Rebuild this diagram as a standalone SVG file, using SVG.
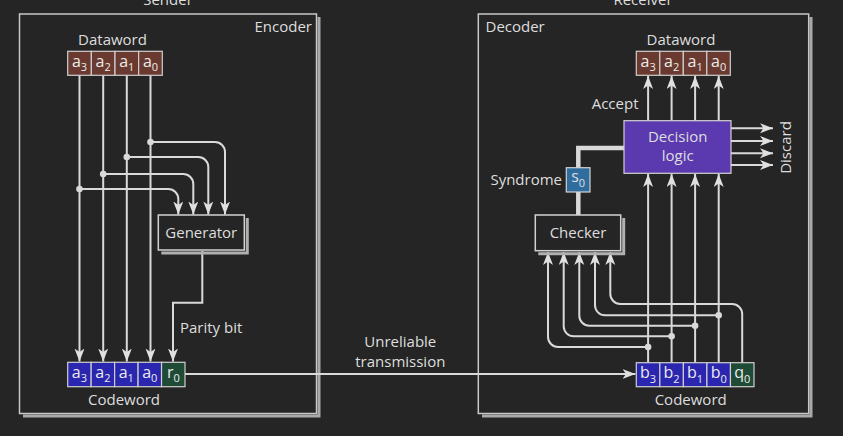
<svg xmlns="http://www.w3.org/2000/svg" width="843" height="436" viewBox="0 0 843 436">
<defs>
<style>
text{font-family:"Open Sans","Liberation Sans",sans-serif;fill:#dedede;font-size:15px}
.mid{text-anchor:middle}
.end{text-anchor:end}
.cell text{font-size:16px;text-anchor:middle;fill:#ececec}
.sub{font-size:11px}
.frame{fill:none;stroke:#c8c8c8;stroke-width:1.5}
.shadow{fill:none;stroke:#a9a9a9;stroke-width:3}
.box{fill:#252525;stroke:#d2d2d2;stroke-width:1.5}
.bshadow{fill:none;stroke:#b0b0b0;stroke-width:3}
.ln{fill:none;stroke:#d9d9d9;stroke-width:2}
.thick{fill:none;stroke:#d9d9d9;stroke-width:4.5}
.dot{fill:#d9d9d9}
.brown{fill:#6a3a30;stroke:#cfcfcf;stroke-width:1.2}
.blue{fill:#2a26b0;stroke:#cfcfcf;stroke-width:1.2}
.green{fill:#1e4a36;stroke:#cfcfcf;stroke-width:1.2}
</style>
<marker id="arr" markerUnits="userSpaceOnUse" markerWidth="14" markerHeight="11" refX="13" refY="5" orient="auto">
<path d="M0,0 L13,5 L0,10 L3.5,5 z" fill="#e0e0e0"/>
</marker>
</defs>
<rect width="843" height="436" fill="#252525"/>

<text class="mid" x="168" y="5">Sender</text>
<text class="mid" x="643" y="5">Receiver</text>

<g id="encoder">
<path class="shadow" d="M319,17 V416 H23"/>
<rect class="frame" x="19.5" y="14" width="297" height="399.5"/>
<text class="end" x="312" y="32">Encoder</text>
</g>

<g id="decoder">
<path class="shadow" d="M811,17 V416 H482"/>
<rect class="frame" x="478.3" y="14" width="330.4" height="399.5"/>
<text x="485.5" y="32">Decoder</text>
</g>

<g id="connectors">
<path class="ln" d="M79.5,75.3 V361.5" marker-end="url(#arr)"/>
<path class="ln" d="M103.2,75.3 V361.5" marker-end="url(#arr)"/>
<path class="ln" d="M126.8,75.3 V361.5" marker-end="url(#arr)"/>
<path class="ln" d="M150.5,75.3 V361.5" marker-end="url(#arr)"/>
<path class="ln" d="M150.5,142 H215 A10,10 0 0 1 225,152 V214.5" marker-end="url(#arr)"/>
<path class="ln" d="M126.8,157 H198.3 A10,10 0 0 1 208.3,167 V214.5" marker-end="url(#arr)"/>
<path class="ln" d="M103.2,174 H183.3 A10,10 0 0 1 193.3,184 V214.5" marker-end="url(#arr)"/>
<path class="ln" d="M79.5,189 H168.3 A10,10 0 0 1 178.3,199 V214.5" marker-end="url(#arr)"/>
<circle class="dot" cx="150.5" cy="142" r="3.3"/>
<circle class="dot" cx="126.8" cy="157" r="3.3"/>
<circle class="dot" cx="103.2" cy="174" r="3.3"/>
<circle class="dot" cx="79.5" cy="189" r="3.3"/>
<path class="ln" d="M202.3,251 V302.7 H173 V361.5" marker-end="url(#arr)"/>
<path class="ln" d="M185,374 H635.5" marker-end="url(#arr)"/>
<path class="ln" d="M648.1,362.7 V174" marker-end="url(#arr)"/>
<path class="ln" d="M671.6,362.7 V174" marker-end="url(#arr)"/>
<path class="ln" d="M695.1,362.7 V174" marker-end="url(#arr)"/>
<path class="ln" d="M718.7,362.7 V174" marker-end="url(#arr)"/>
<path class="ln" d="M648.1,120.7 V76" marker-end="url(#arr)"/>
<path class="ln" d="M671.6,120.7 V76" marker-end="url(#arr)"/>
<path class="ln" d="M695.1,120.7 V76" marker-end="url(#arr)"/>
<path class="ln" d="M718.7,120.7 V76" marker-end="url(#arr)"/>
<path class="ln" d="M731,128.3 H773" marker-end="url(#arr)"/>
<path class="ln" d="M731,141 H773" marker-end="url(#arr)"/>
<path class="ln" d="M731,153.3 H773" marker-end="url(#arr)"/>
<path class="ln" d="M731,165 H773" marker-end="url(#arr)"/>
<path class="ln" d="M648.1,347 H558 A10,10 0 0 1 548,337 V252" marker-end="url(#arr)"/>
<path class="ln" d="M671.6,336.3 H573.7 A10,10 0 0 1 563.7,326.3 V252" marker-end="url(#arr)"/>
<path class="ln" d="M695.1,325.7 H589.3 A10,10 0 0 1 579.3,315.7 V252" marker-end="url(#arr)"/>
<path class="ln" d="M718.7,315.3 H605 A10,10 0 0 1 595,305.3 V252" marker-end="url(#arr)"/>
<path class="ln" d="M742.2,362.7 V314 A10,10 0 0 0 732.2,304 H620.3 A10,10 0 0 1 610.3,294 V252" marker-end="url(#arr)"/>
<circle class="dot" cx="648.1" cy="347" r="3.3"/>
<circle class="dot" cx="671.6" cy="336.3" r="3.3"/>
<circle class="dot" cx="695.1" cy="325.7" r="3.3"/>
<circle class="dot" cx="718.7" cy="315.3" r="3.3"/>
<path class="thick" d="M624,148 H578.3 V168"/>
<path class="thick" d="M578.3,192 V215"/>
</g>

<text class="mid" x="112.5" y="45">Dataword</text>
<g id="enc-dataword" class="cell">
<rect class="brown" x="67.7" y="51.3" width="23.65" height="24"/>
<rect class="brown" x="91.35" y="51.3" width="23.65" height="24"/>
<rect class="brown" x="115" y="51.3" width="23.65" height="24"/>
<rect class="brown" x="138.65" y="51.3" width="23.65" height="24"/>
<text x="79.5" y="66.5">a<tspan class="sub" dy="4.5">3</tspan></text>
<text x="103.2" y="66.5">a<tspan class="sub" dy="4.5">2</tspan></text>
<text x="126.8" y="66.5">a<tspan class="sub" dy="4.5">1</tspan></text>
<text x="150.5" y="66.5">a<tspan class="sub" dy="4.5">0</tspan></text>
</g>

<g id="generator">
<path class="bshadow" d="M247.3,218 V253 H161.3"/>
<rect class="box" x="158.3" y="215" width="86" height="35"/>
<text class="mid" x="201.3" y="237.5">Generator</text>
</g>

<text x="180" y="333">Parity bit</text>

<g id="enc-codeword" class="cell">
<rect class="blue" x="67.7" y="362.3" width="23.46" height="24.4"/>
<rect class="blue" x="91.16" y="362.3" width="23.46" height="24.4"/>
<rect class="blue" x="114.62" y="362.3" width="23.46" height="24.4"/>
<rect class="blue" x="138.08" y="362.3" width="23.46" height="24.4"/>
<rect class="green" x="161.54" y="362.3" width="23.46" height="24.4"/>
<text x="79.4" y="377.5">a<tspan class="sub" dy="4.5">3</tspan></text>
<text x="102.9" y="377.5">a<tspan class="sub" dy="4.5">2</tspan></text>
<text x="126.3" y="377.5">a<tspan class="sub" dy="4.5">1</tspan></text>
<text x="149.8" y="377.5">a<tspan class="sub" dy="4.5">0</tspan></text>
<text x="173.3" y="377.5">r<tspan class="sub" dy="4.5">0</tspan></text>
</g>
<text class="mid" x="124" y="404.5">Codeword</text>

<g id="transmission-label">
<text class="mid" x="400.3" y="347">Unreliable</text>
<text class="mid" x="400.3" y="366.5">transmission</text>
</g>

<text class="mid" x="681" y="45">Dataword</text>
<g id="dec-dataword" class="cell">
<rect class="brown" x="636.3" y="51.3" width="23.5" height="24"/>
<rect class="brown" x="659.8" y="51.3" width="23.5" height="24"/>
<rect class="brown" x="683.3" y="51.3" width="23.5" height="24"/>
<rect class="brown" x="706.8" y="51.3" width="23.5" height="24"/>
<text x="648.1" y="66.5">a<tspan class="sub" dy="4.5">3</tspan></text>
<text x="671.6" y="66.5">a<tspan class="sub" dy="4.5">2</tspan></text>
<text x="695.1" y="66.5">a<tspan class="sub" dy="4.5">1</tspan></text>
<text x="718.6" y="66.5">a<tspan class="sub" dy="4.5">0</tspan></text>
</g>

<text class="end" x="638.5" y="108.5">Accept</text>

<g id="decision-logic">
<rect x="624" y="120.7" width="107" height="52.6" fill="#5a3aae" stroke="#d2d2d2" stroke-width="1.2"/>
<text class="mid" x="677.7" y="142">Decision</text>
<text class="mid" x="677.7" y="161">logic</text>
</g>

<text class="mid" transform="translate(791,147.5) rotate(-90)" x="0" y="0">Discard</text>

<g id="syndrome">
<rect x="566.3" y="167.7" width="23.7" height="24.3" fill="#2e6d9e" stroke="#d2d2d2" stroke-width="1.2"/>
<text class="mid" x="578.2" y="182" style="font-size:16px">s<tspan class="sub" dy="4.5">0</tspan></text>
<text class="end" x="562" y="185">Syndrome</text>
</g>

<g id="checker">
<path class="bshadow" d="M623.7,218 V253.7 H538.3"/>
<rect class="box" x="535.3" y="215" width="85.4" height="35.7"/>
<text class="mid" x="578" y="237.5">Checker</text>
</g>

<g id="dec-codeword" class="cell">
<rect class="blue" x="636.3" y="362.7" width="23.54" height="24"/>
<rect class="blue" x="659.84" y="362.7" width="23.54" height="24"/>
<rect class="blue" x="683.38" y="362.7" width="23.54" height="24"/>
<rect class="blue" x="706.92" y="362.7" width="23.54" height="24"/>
<rect class="green" x="730.46" y="362.7" width="23.54" height="24"/>
<text x="648.1" y="378">b<tspan class="sub" dy="4.5">3</tspan></text>
<text x="671.6" y="378">b<tspan class="sub" dy="4.5">2</tspan></text>
<text x="695.1" y="378">b<tspan class="sub" dy="4.5">1</tspan></text>
<text x="718.7" y="378">b<tspan class="sub" dy="4.5">0</tspan></text>
<text x="742.2" y="378">q<tspan class="sub" dy="4.5">0</tspan></text>
</g>
<text class="mid" x="690.7" y="404.5">Codeword</text>
</svg>
